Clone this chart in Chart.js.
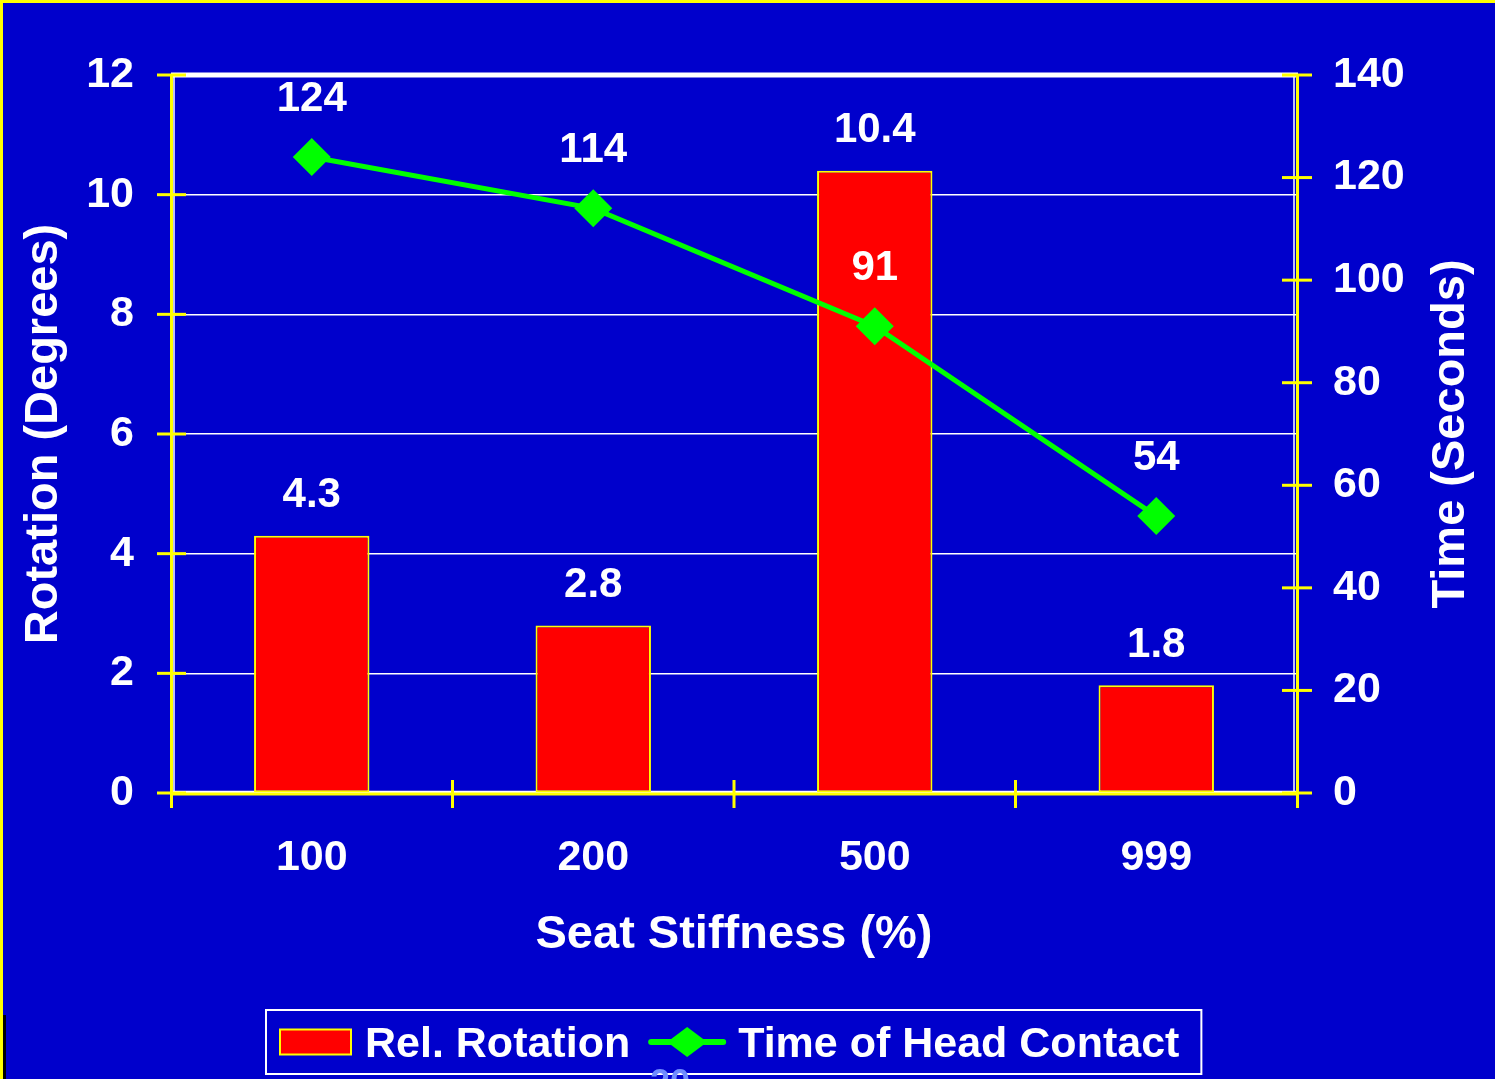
<!DOCTYPE html>
<html>
<head>
<meta charset="utf-8">
<script src="https://cdn.jsdelivr.net/npm/chart.js@4.4.0/dist/chart.umd.min.js"></script>
<style>
  html, body { margin: 0; padding: 0; background: #0000CC; overflow: hidden; }
  #wrap { position: relative; width: 1495px; height: 1079px; }
  #c { display: block; }
  #page { position: absolute; left: 650px; top: 1062px; font: bold 36px 'Liberation Sans', Arial, sans-serif; color: #6F8CFF; }
</style>
</head>
<body>
<div id="wrap">
  <canvas id="c" width="1495" height="1079"></canvas>
  <div id="page">20</div>
</div>
<script>
// Seat stiffness levels and measured results
const categories = ['100', '200', '500', '999'];
const rotationValues = [4.3, 2.8, 10.4, 1.8];      // degrees
const contactTimes = [124, 114, 91, 54];            // seconds
const rotationTicks = [0, 2, 4, 6, 8, 10, 12];
const timeTicks = [0, 20, 40, 60, 80, 100, 120, 140];
const seriesNames = ['Rel. Rotation', 'Time of Head Contact'];
const xTitle = 'Seat Stiffness (%)';
const yTitle = 'Rotation (Degrees)';
const y1Title = 'Time (Seconds)';

const FONT = "'Liberation Sans', Arial, sans-serif";
const BLUE = '#0000CC', YELLOW = '#FFFF00', WHITE = '#FFFFFF', RED = '#FF0000', GREEN = '#00FF00';

Chart.defaults.font.family = FONT;
Chart.defaults.font.weight = 'bold';
Chart.defaults.color = WHITE;

function seg(ctx, x1, y1, x2, y2) {
  ctx.beginPath(); ctx.moveTo(x1, y1); ctx.lineTo(x2, y2); ctx.stroke();
}

// Background, slide border and the white plot frame behind the bars
const framePlugin = {
  id: 'frame',
  beforeDraw(chart) {
    const { ctx, width, height } = chart;
    ctx.save();
    ctx.fillStyle = BLUE; ctx.fillRect(0, 0, width, height);
    ctx.fillStyle = YELLOW;
    ctx.fillRect(0, 0, width, 3);
    ctx.fillRect(0, 0, 3, height);
    ctx.fillStyle = '#000000';
    ctx.fillRect(3, 1015, 3, height - 1015);
    ctx.restore();
  },
  beforeDatasetsDraw(chart) {
    const { ctx, chartArea: a } = chart;
    ctx.save();
    ctx.strokeStyle = WHITE; ctx.lineWidth = 1.5;
    seg(ctx, a.left + 3, a.top, a.left + 3, a.bottom);
    seg(ctx, a.right - 3, a.top, a.right - 3, a.bottom);
    seg(ctx, a.left, a.bottom - 1.5, a.right, a.bottom - 1.5);
    ctx.restore();
  },
  afterDatasetsDraw(chart) {
    const { ctx, chartArea: a, scales } = chart;
    ctx.save();
    // thick white top edge
    ctx.fillStyle = WHITE;
    ctx.fillRect(a.left, a.top - 2.5, a.right - a.left + 1, 5);
    // yellow axis lines
    ctx.strokeStyle = YELLOW; ctx.lineWidth = 3;
    seg(ctx, a.left + 0.5, a.top, a.left + 0.5, a.bottom + 2.5);
    seg(ctx, a.right + 0.5, a.top, a.right + 0.5, a.bottom + 2.5);
    seg(ctx, a.left, a.bottom + 1, a.right + 2, a.bottom + 1);
    // left ticks
    scales.y.ticks.forEach(t => {
      const y = scales.y.getPixelForValue(t.value);
      seg(ctx, a.left - 14, y, a.left + 15, y);
    });
    // right ticks
    scales.y1.ticks.forEach(t => {
      const y = scales.y1.getPixelForValue(t.value);
      seg(ctx, a.right - 15, y, a.right + 15, y);
    });
    // category boundary ticks
    const xs = scales.x;
    const n = categories.length;
    for (let i = 0; i <= n; i++) {
      let x;
      if (i === 0) x = a.left + 0.5;
      else if (i === n) x = a.right + 0.5;
      else x = (xs.getPixelForValue(i - 1) + xs.getPixelForValue(i)) / 2;
      seg(ctx, x, a.bottom - 13, x, a.bottom + 15);
    }
    ctx.restore();
  }
};

// Value labels above bars and line points
const valueLabels = {
  id: 'valueLabels',
  afterDatasetsDraw(chart) {
    const { ctx } = chart;
    ctx.save();
    ctx.font = 'bold 42px ' + FONT;
    ctx.fillStyle = WHITE;
    ctx.textAlign = 'center';
    ctx.textBaseline = 'middle';
    chart.data.datasets.forEach((ds, di) => {
      const meta = chart.getDatasetMeta(di);
      const lift = ds.type === 'bar' ? 40 : 58;
      meta.data.forEach((el, i) => {
        ctx.fillText(String(ds.data[i]), el.x, el.y - lift);
      });
    });
    ctx.restore();
  }
};

// Right-hand axis title (reads bottom to top) and the boxed legend
const extras = {
  id: 'extras',
  afterDraw(chart) {
    const { ctx, chartArea: a, scales } = chart;
    ctx.save();
    ctx.font = 'bold 47px ' + FONT;
    ctx.fillStyle = WHITE;
    ctx.textAlign = 'center';
    ctx.textBaseline = 'middle';
    ctx.translate(scales.y1.right - 44, (a.top + a.bottom) / 2);
    ctx.rotate(-Math.PI / 2);
    ctx.fillText(y1Title, 0, 0);
    ctx.restore();

    // legend
    ctx.save();
    ctx.font = 'bold 43px ' + FONT;
    const w1 = ctx.measureText(seriesNames[0]).width;
    const w2 = ctx.measureText(seriesNames[1]).width;
    const padL = 14, boxW = 71, boxH = 25, gap1 = 14, gap2 = 18, lineLen = 78, gap3 = 12, padR = 22;
    const total = padL + boxW + gap1 + w1 + gap2 + lineLen + gap3 + w2 + padR;
    const cx = (a.left + a.right) / 2;
    const left = Math.round(cx - total / 2);
    const top = 1010, h = 64, cy = top + h / 2;
    ctx.strokeStyle = WHITE; ctx.lineWidth = 2;
    ctx.strokeRect(left, top, total, h);
    let x = left + padL;
    ctx.fillStyle = RED; ctx.fillRect(x, cy - boxH / 2, boxW, boxH);
    ctx.strokeStyle = YELLOW; ctx.lineWidth = 2;
    ctx.strokeRect(x, cy - boxH / 2, boxW, boxH);
    x += boxW + gap1;
    ctx.fillStyle = WHITE; ctx.textBaseline = 'alphabetic'; ctx.textAlign = 'left';
    ctx.fillText(seriesNames[0], x, cy + 15);
    x += w1 + gap2;
    ctx.strokeStyle = GREEN; ctx.lineWidth = 6; ctx.lineCap = 'round';
    seg(ctx, x + 3, cy, x + lineLen - 3, cy);
    const mx = x + lineLen / 2;
    ctx.fillStyle = GREEN;
    ctx.beginPath();
    ctx.moveTo(mx - 20, cy); ctx.lineTo(mx, cy - 15); ctx.lineTo(mx + 20, cy); ctx.lineTo(mx, cy + 15);
    ctx.closePath(); ctx.fill();
    x += lineLen + gap3;
    ctx.fillStyle = WHITE;
    ctx.fillText(seriesNames[1], x, cy + 15);
    ctx.restore();
  }
};

new Chart(document.getElementById('c'), {
  data: {
    labels: categories,
    datasets: [
      {
        type: 'bar',
        label: seriesNames[0],
        data: rotationValues,
        yAxisID: 'y',
        backgroundColor: RED,
        borderColor: YELLOW,
        borderWidth: 2,
        borderSkipped: false,
        barPercentage: 0.41,
        categoryPercentage: 1.0,
        order: 2
      },
      {
        type: 'line',
        label: seriesNames[1],
        data: contactTimes,
        yAxisID: 'y1',
        borderColor: GREEN,
        borderWidth: 5,
        backgroundColor: GREEN,
        pointStyle: 'rectRot',
        pointRadius: 19,
        pointBorderWidth: 0,
        pointBackgroundColor: GREEN,
        tension: 0,
        order: 1
      }
    ]
  },
  options: {
    responsive: false,
    devicePixelRatio: 1,
    animation: false,
    layout: { padding: { top: 75, bottom: 79, left: 0, right: 0 } },
    plugins: { legend: { display: false }, tooltip: { enabled: false } },
    scales: {
      x: {
        offset: true,
        grid: { display: false, drawTicks: false },
        border: { display: false },
        ticks: { font: { size: 43, weight: 'bold' }, color: WHITE, padding: 39, maxRotation: 0 },
        title: { display: true, text: xTitle, color: WHITE, font: { size: 47, weight: 'bold' }, padding: { top: 0, bottom: 37 } },
        afterFit(s) { s.height = 207; }
      },
      y: {
        position: 'left',
        min: rotationTicks[0],
        max: rotationTicks[rotationTicks.length - 1],
        grid: { color: WHITE, lineWidth: 1.5, drawTicks: false },
        border: { display: false },
        ticks: { stepSize: rotationTicks[1] - rotationTicks[0], font: { size: 43, weight: 'bold' }, color: WHITE, padding: 37 },
        title: { display: true, text: yTitle, color: WHITE, font: { size: 47, weight: 'bold' }, padding: { top: 16, bottom: 0 } },
        afterFit(s) { s.width = 171; }
      },
      y1: {
        position: 'right',
        min: timeTicks[0],
        max: timeTicks[timeTicks.length - 1],
        grid: { display: false, drawTicks: false },
        border: { display: false },
        ticks: { stepSize: timeTicks[1] - timeTicks[0], font: { size: 43, weight: 'bold' }, color: WHITE, padding: 36 },
        afterFit(s) { s.width = 198; }
      }
    }
  },
  plugins: [framePlugin, valueLabels, extras]
});
</script>
</body>
</html>
